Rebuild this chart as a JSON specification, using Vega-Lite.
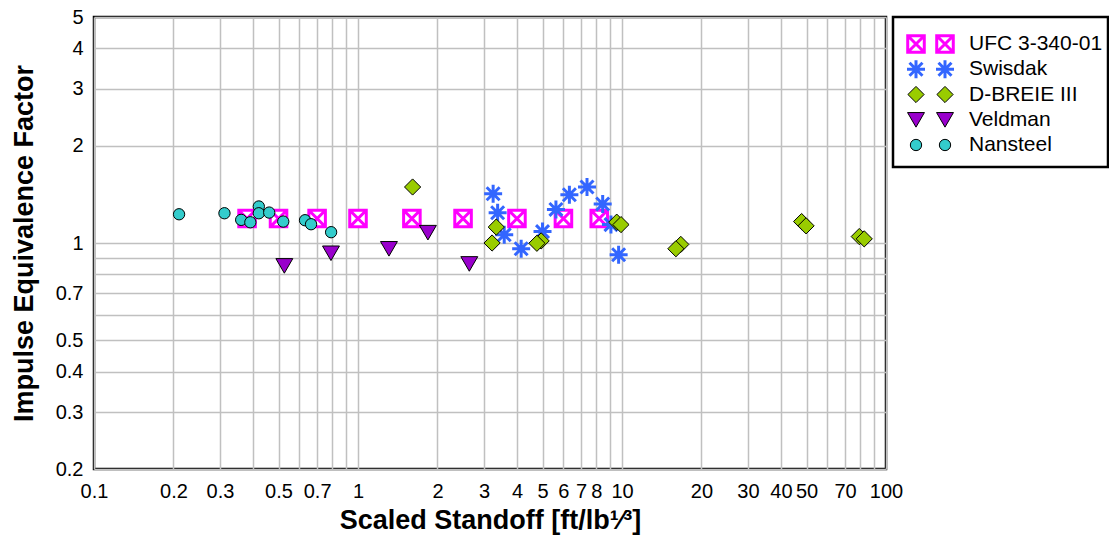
{
  "$schema": "https://vega.github.io/schema/vega-lite/v6.json",
  "background": "white",
  "padding": {"left": 8, "top": 5, "right": 0, "bottom": 0},
  "bounds": "flush",
  "spacing": 7,
  "config": {
    "view": {"stroke": "black", "strokeWidth": 2.5},
    "font": "Liberation Sans",
    "axis": {
      "domain": false, "ticks": false, "grid": true,
      "gridColor": "#c0c0c0", "gridWidth": 1.5,
      "labelFont": "Liberation Sans", "labelFontSize": 20, "labelColor": "black",
      "titleFont": "Liberation Sans", "titleFontWeight": "bold", "titleColor": "black",
      "labelOverlap": false, "labelFlush": false, "labelBound": false
    },
    "text": {"font": "Liberation Sans"}
  },
  "resolve": {"scale": {"x": "independent", "y": "independent"}},
  "hconcat": [
    {
      "width": 792,
      "height": 452,
      "data": {"values": [
        {"series": "UFC 3-340-01", "x": 0.38, "y": 1.19},
        {"series": "UFC 3-340-01", "x": 0.5, "y": 1.19},
        {"series": "UFC 3-340-01", "x": 0.7, "y": 1.19},
        {"series": "UFC 3-340-01", "x": 1.0, "y": 1.19},
        {"series": "UFC 3-340-01", "x": 1.6, "y": 1.19},
        {"series": "UFC 3-340-01", "x": 2.5, "y": 1.19},
        {"series": "UFC 3-340-01", "x": 4.0, "y": 1.19},
        {"series": "UFC 3-340-01", "x": 6.0, "y": 1.19},
        {"series": "UFC 3-340-01", "x": 8.2, "y": 1.19},
        {"series": "Swisdak", "x": 3.25, "y": 1.42},
        {"series": "Swisdak", "x": 3.38, "y": 1.24},
        {"series": "Swisdak", "x": 3.58, "y": 1.06},
        {"series": "Swisdak", "x": 4.15, "y": 0.96},
        {"series": "Swisdak", "x": 5.0, "y": 1.085},
        {"series": "Swisdak", "x": 5.62, "y": 1.27},
        {"series": "Swisdak", "x": 6.32, "y": 1.41},
        {"series": "Swisdak", "x": 7.37, "y": 1.49},
        {"series": "Swisdak", "x": 8.45, "y": 1.32},
        {"series": "Swisdak", "x": 9.08, "y": 1.14},
        {"series": "Swisdak", "x": 9.71, "y": 0.92},
        {"series": "D-BREIE III", "x": 1.61, "y": 1.49},
        {"series": "D-BREIE III", "x": 3.34, "y": 1.12},
        {"series": "D-BREIE III", "x": 3.22, "y": 1.0},
        {"series": "D-BREIE III", "x": 4.94, "y": 1.015},
        {"series": "D-BREIE III", "x": 4.76, "y": 0.998},
        {"series": "D-BREIE III", "x": 9.55, "y": 1.16},
        {"series": "D-BREIE III", "x": 9.91, "y": 1.14},
        {"series": "D-BREIE III", "x": 16.7, "y": 0.99},
        {"series": "D-BREIE III", "x": 16.0, "y": 0.96},
        {"series": "D-BREIE III", "x": 47.9, "y": 1.165},
        {"series": "D-BREIE III", "x": 49.8, "y": 1.13},
        {"series": "D-BREIE III", "x": 79.2, "y": 1.047},
        {"series": "D-BREIE III", "x": 82.7, "y": 1.03},
        {"series": "Veldman", "x": 0.526, "y": 0.85},
        {"series": "Veldman", "x": 0.79, "y": 0.93},
        {"series": "Veldman", "x": 1.31, "y": 0.96},
        {"series": "Veldman", "x": 1.84, "y": 1.077},
        {"series": "Veldman", "x": 2.64, "y": 0.862},
        {"series": "Nansteel", "x": 0.21, "y": 1.227},
        {"series": "Nansteel", "x": 0.312, "y": 1.236},
        {"series": "Nansteel", "x": 0.361, "y": 1.179},
        {"series": "Nansteel", "x": 0.391, "y": 1.159},
        {"series": "Nansteel", "x": 0.421, "y": 1.297},
        {"series": "Nansteel", "x": 0.421, "y": 1.236},
        {"series": "Nansteel", "x": 0.461, "y": 1.242},
        {"series": "Nansteel", "x": 0.521, "y": 1.165},
        {"series": "Nansteel", "x": 0.63, "y": 1.176},
        {"series": "Nansteel", "x": 0.664, "y": 1.143},
        {"series": "Nansteel", "x": 0.791, "y": 1.08}
      ]},
      "encoding": {
        "x": {
          "field": "x", "type": "quantitative",
          "scale": {"type": "log", "domain": [0.1, 100], "nice": false},
          "axis": {
            "values": [0.1,0.2,0.3,0.4,0.5,0.6,0.7,0.8,0.9,1,2,3,4,5,6,7,8,9,10,20,30,40,50,60,70,80,90,100],
            "format": "~g",
            "labelExpr": "indexof([0.4,0.6,0.8,0.9,9,60,80,90], datum.value) >= 0 ? '' : datum.label",
            "title": "Scaled Standoff [ft/lb¹⁄³]",
            "titleFontSize": 27,
            "labelPadding": 12,
            "titlePadding": 6
          }
        },
        "y": {
          "field": "y", "type": "quantitative",
          "scale": {"type": "log", "domain": [0.2, 5], "nice": false},
          "axis": {
            "values": [0.2,0.3,0.4,0.5,0.6,0.7,0.8,0.9,1,2,3,4,5],
            "format": "~g",
            "labelExpr": "indexof([0.6,0.8,0.9], datum.value) >= 0 ? '' : datum.label",
            "title": "Impulse Equivalence Factor",
            "titleFontSize": 27,
            "labelPadding": 11,
            "titlePadding": 17
          }
        }
      },
      "layer": [
        {
          "transform": [{"filter": {"field": "series", "equal": "UFC 3-340-01"}}],
          "mark": {"type": "point", "shape": "M-0.92,-0.92L0.92,-0.92L0.92,0.92L-0.92,0.92Z M-0.92,-0.92L0.92,0.92 M0.92,-0.92L-0.92,0.92", "size": 324, "filled": true, "fill": "white", "stroke": "#FF00FF", "strokeWidth": 3, "opacity": 1}
        },
        {
          "transform": [{"filter": {"field": "series", "equal": "Swisdak"}}],
          "mark": {"type": "point", "shape": "M0,-1L0,1 M-1,0L1,0 M-0.72,-0.72L0.72,0.72 M-0.72,0.72L0.72,-0.72", "size": 324, "filled": false, "fill": null, "stroke": "#3366FF", "strokeWidth": 3, "opacity": 1}
        },
        {
          "transform": [{"filter": {"field": "series", "equal": "D-BREIE III"}}],
          "mark": {"type": "point", "shape": "M0,-0.9L0.9,0L0,0.9L-0.9,0Z", "size": 324, "filled": true, "fill": "#99CC00", "stroke": "black", "strokeWidth": 1, "opacity": 1}
        },
        {
          "transform": [{"filter": {"field": "series", "equal": "Veldman"}}],
          "mark": {"type": "point", "shape": "M-0.94,-0.8L0.94,-0.8L0,0.82Z", "size": 324, "filled": true, "fill": "#9900CC", "stroke": "black", "strokeWidth": 1, "opacity": 1}
        },
        {
          "transform": [{"filter": {"field": "series", "equal": "Nansteel"}}],
          "mark": {"type": "point", "shape": "M-0.63,0A0.63,0.63,0,1,1,0.63,0A0.63,0.63,0,1,1,-0.63,0Z", "size": 324, "filled": true, "fill": "#33CCCC", "stroke": "black", "strokeWidth": 1, "opacity": 1}
        }
      ]
    },
    {
      "width": 215,
      "height": 150,
      "data": {"values": [
        {"series": "UFC 3-340-01", "slot": 1}, {"series": "UFC 3-340-01", "slot": 2},
        {"series": "Swisdak", "slot": 1}, {"series": "Swisdak", "slot": 2},
        {"series": "D-BREIE III", "slot": 1}, {"series": "D-BREIE III", "slot": 2},
        {"series": "Veldman", "slot": 1}, {"series": "Veldman", "slot": 2},
        {"series": "Nansteel", "slot": 1}, {"series": "Nansteel", "slot": 2}
      ]},
      "encoding": {
        "x": {"field": "slot", "type": "ordinal", "scale": {"type": "point", "domain": [1, 2], "range": [23, 52], "padding": 0}, "axis": null},
        "y": {"field": "series", "type": "nominal", "scale": {"type": "point", "domain": ["UFC 3-340-01", "Swisdak", "D-BREIE III", "Veldman", "Nansteel"], "range": [27, 128], "padding": 0}, "axis": null}
      },
      "layer": [
        {
          "transform": [{"filter": {"field": "series", "equal": "UFC 3-340-01"}}],
          "mark": {"type": "point", "shape": "M-0.92,-0.92L0.92,-0.92L0.92,0.92L-0.92,0.92Z M-0.92,-0.92L0.92,0.92 M0.92,-0.92L-0.92,0.92", "size": 324, "filled": true, "fill": "white", "stroke": "#FF00FF", "strokeWidth": 3, "opacity": 1}
        },
        {
          "transform": [{"filter": {"field": "series", "equal": "Swisdak"}}],
          "mark": {"type": "point", "shape": "M0,-1L0,1 M-1,0L1,0 M-0.72,-0.72L0.72,0.72 M-0.72,0.72L0.72,-0.72", "size": 324, "filled": false, "fill": null, "stroke": "#3366FF", "strokeWidth": 3, "opacity": 1}
        },
        {
          "transform": [{"filter": {"field": "series", "equal": "D-BREIE III"}}],
          "mark": {"type": "point", "shape": "M0,-0.9L0.9,0L0,0.9L-0.9,0Z", "size": 324, "filled": true, "fill": "#99CC00", "stroke": "black", "strokeWidth": 1, "opacity": 1}
        },
        {
          "transform": [{"filter": {"field": "series", "equal": "Veldman"}}],
          "mark": {"type": "point", "shape": "M-0.94,-0.8L0.94,-0.8L0,0.82Z", "size": 324, "filled": true, "fill": "#9900CC", "stroke": "black", "strokeWidth": 1, "opacity": 1}
        },
        {
          "transform": [{"filter": {"field": "series", "equal": "Nansteel"}}],
          "mark": {"type": "point", "shape": "M-0.63,0A0.63,0.63,0,1,1,0.63,0A0.63,0.63,0,1,1,-0.63,0Z", "size": 324, "filled": true, "fill": "#33CCCC", "stroke": "black", "strokeWidth": 1, "opacity": 1}
        },
        {
          "transform": [{"filter": "datum.slot === 2"}],
          "mark": {"type": "text", "align": "left", "baseline": "middle", "dx": 24, "fontSize": 21, "color": "black"},
          "encoding": {"text": {"field": "series"}}
        }
      ]
    }
  ]
}
